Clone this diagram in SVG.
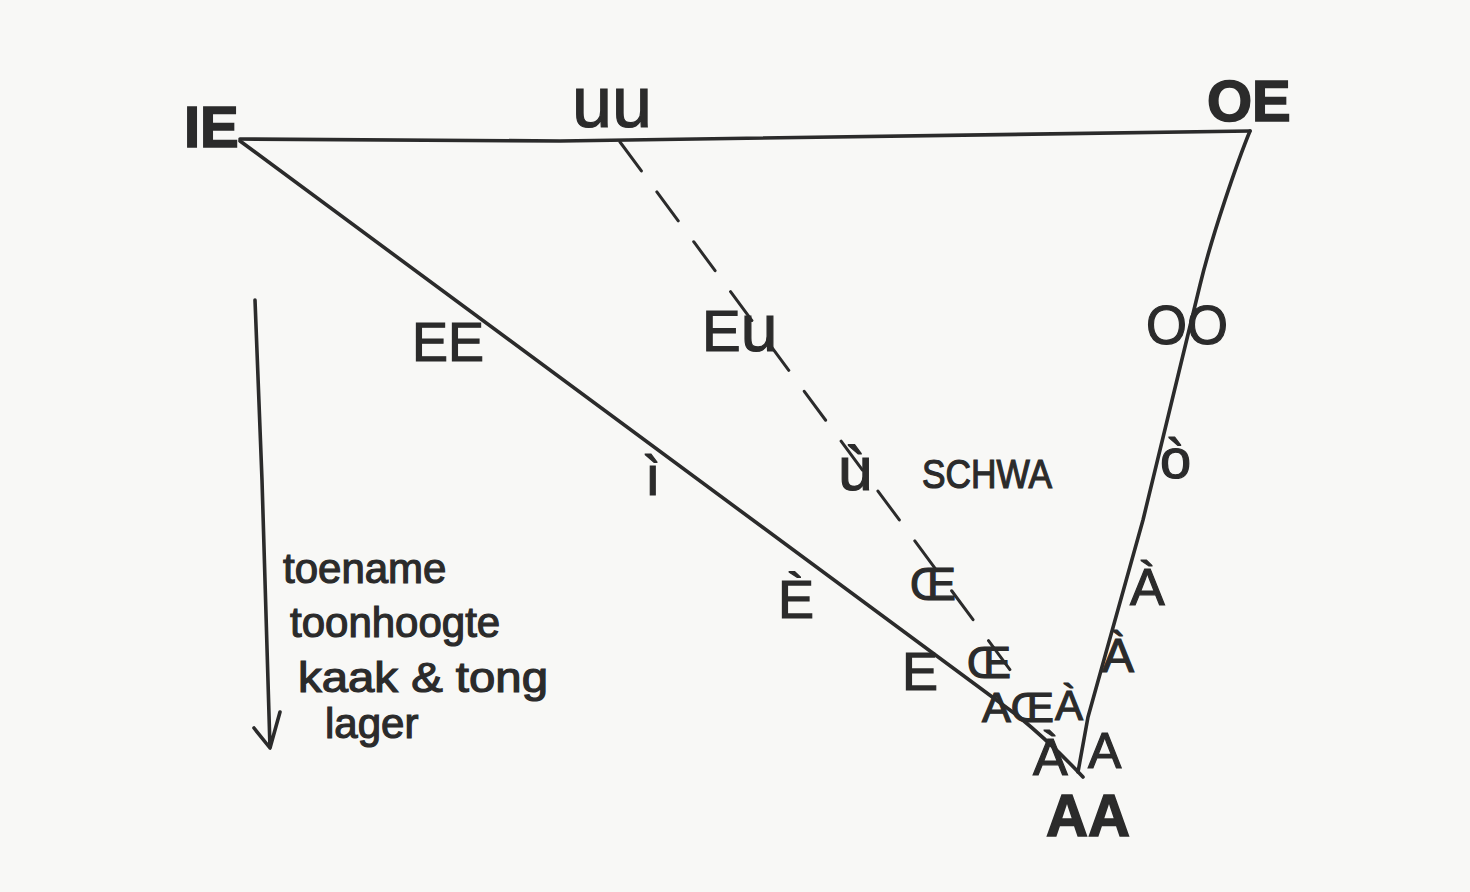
<svg xmlns="http://www.w3.org/2000/svg" width="1470" height="892" viewBox="0 0 1470 892">
<style>
.ln{fill:none;stroke:#2b2b2b;stroke-width:3.6;stroke-linecap:round;stroke-linejoin:round}
.dash{stroke-dasharray:36 26;stroke-width:3}
.t{font-family:"Liberation Sans","DejaVu Sans",sans-serif;fill:#2b2b2b;stroke:#2b2b2b;stroke-width:1.2}
.b{font-weight:bold;stroke-width:1.6}
</style>
<rect width="1470" height="892" fill="#f8f8f6"/>
<g id="connectors">
<path class="ln" d="M240,139 L560,141 L1250,131"/>
<path class="ln" d="M240,141 L1018,716 Q1052,744 1083,777"/>
<path class="ln" d="M1250,131 C1238,160 1212,235 1200,285 L1143,520 L1088,717 L1078,772"/>
<path class="ln dash" d="M620,142 L1025,690"/>
<path class="ln" stroke-width="4" d="M255,300 L262,480 L270,748 M254,728 L270,748 L280,712"/>
</g>
<g id="node-IE"><text class="t b" x="184" y="147" font-size="58">IE</text></g>
<g id="node-uu"><text class="t" x="572" y="127" font-size="72">uu</text></g>
<g id="node-OE"><text class="t b" x="1207" y="121" font-size="58">OE</text></g>
<g id="node-EE"><text class="t" x="412" y="361" font-size="56" textLength="72" lengthAdjust="spacingAndGlyphs">EE</text></g>
<g id="node-Eu"><text class="t" x="702" y="351" font-size="58">E<tspan font-size="66">u</tspan></text></g>
<g id="node-i"><text class="t" x="645" y="495" font-size="56">ì</text></g>
<g id="node-schwa"><text class="t" x="838" y="490" font-size="62">ù</text><text class="t" x="922" y="488" font-size="40" textLength="130" lengthAdjust="spacingAndGlyphs">SCHWA</text></g>
<g id="node-OO"><text class="t" x="1146" y="344" font-size="56" textLength="82" lengthAdjust="spacingAndGlyphs">OO</text></g>
<g id="node-o"><text class="t" x="1160" y="478" font-size="56">ò</text></g>
<g id="node-A1"><text class="t" x="1130" y="605" font-size="52">À</text></g>
<g id="node-A2"><text class="t" x="1102" y="672" font-size="48">À</text></g>
<g id="node-E-grave"><text class="t" x="778" y="618" font-size="54">È</text></g>
<g id="node-E"><text class="t" x="902" y="690" font-size="54">E</text></g>
<g id="node-OE1"><text class="t" x="910" y="600" font-size="46">Œ</text></g>
<g id="node-OE2"><text class="t" x="967" y="678" font-size="44">Œ</text></g>
<g id="node-AOE"><text class="t" x="982" y="722" font-size="42" textLength="72" lengthAdjust="spacingAndGlyphs">AŒ</text></g>
<g id="node-A3"><text class="t" x="1055" y="720" font-size="42">À</text></g>
<g id="node-A4"><text class="t" x="1033" y="775" font-size="52">À</text></g>
<g id="node-A5"><text class="t" x="1088" y="768" font-size="50">A</text></g>
<g id="node-AA"><text class="t b" x="1046" y="836" font-size="60" textLength="84" lengthAdjust="spacingAndGlyphs">AA</text></g>
<g id="note">
<text class="t" x="283" y="583" font-size="42">toename</text>
<text class="t" x="290" y="637" font-size="42">toonhoogte</text>
<text class="t" x="298" y="692" font-size="42" textLength="250" lengthAdjust="spacingAndGlyphs">kaak &amp; tong</text>
<text class="t" x="325" y="738" font-size="42">lager</text>
</g>
</svg>
